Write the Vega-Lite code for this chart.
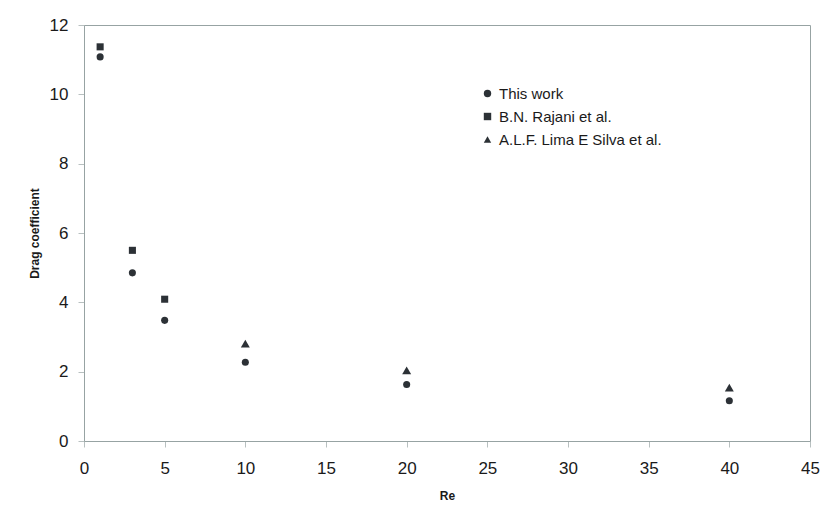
{
  "$schema": "https://vega.github.io/schema/vega-lite/v6.json",
  "width": 726,
  "height": 416,
  "autosize": "none",
  "padding": {"left": 84, "top": 25, "right": 15, "bottom": 76},
  "background": "white",
  "config": {
    "font": "Liberation Sans",
    "view": {"stroke": "#97a3a3", "strokeWidth": 1},
    "axis": {
      "grid": false,
      "domainColor": "#97a3a3",
      "tickColor": "#b8c0c0",
      "tickSize": 6,
      "labelFont": "Liberation Sans",
      "labelFontSize": 17,
      "labelColor": "#1a1a1a",
      "titleFont": "Liberation Sans",
      "titleFontSize": 12,
      "titleFontWeight": "bold",
      "titleColor": "#1a1a1a"
    }
  },
  "data": {
    "values": [
      {"Re": 1, "Cd": 11.08, "series": "This work"},
      {"Re": 3, "Cd": 4.85, "series": "This work"},
      {"Re": 5, "Cd": 3.48, "series": "This work"},
      {"Re": 10, "Cd": 2.27, "series": "This work"},
      {"Re": 20, "Cd": 1.63, "series": "This work"},
      {"Re": 40, "Cd": 1.16, "series": "This work"},
      {"Re": 1, "Cd": 11.37, "series": "B.N. Rajani et al."},
      {"Re": 3, "Cd": 5.5, "series": "B.N. Rajani et al."},
      {"Re": 5, "Cd": 4.09, "series": "B.N. Rajani et al."},
      {"Re": 10, "Cd": 2.81, "series": "A.L.F. Lima E Silva et al."},
      {"Re": 20, "Cd": 2.04, "series": "A.L.F. Lima E Silva et al."},
      {"Re": 40, "Cd": 1.54, "series": "A.L.F. Lima E Silva et al."}
    ]
  },
  "encoding": {
    "x": {
      "field": "Re", "type": "quantitative",
      "scale": {"domain": [0, 45], "nice": false},
      "axis": {"values": [0,5,10,15,20,25,30,35,40,45], "title": "Re", "labelPadding": 13, "titlePadding": 14, "labelFlush": false}
    },
    "y": {
      "field": "Cd", "type": "quantitative",
      "scale": {"domain": [0, 12], "nice": false},
      "axis": {"values": [0,2,4,6,8,10,12], "title": "Drag coefficient", "labelPadding": 10, "titlePadding": 8, "labelFlush": false}
    },
    "shape": {
      "field": "series", "type": "nominal",
      "scale": {
        "domain": ["This work", "B.N. Rajani et al.", "A.L.F. Lima E Silva et al."],
        "range": ["circle", "square", "triangle-up"]
      },
      "legend": {
        "title": null,
        "orient": "none",
        "legendX": 396,
        "legendY": 61,
        "labelFont": "Liberation Sans",
        "labelFontSize": 15,
        "labelLimit": 400,
        "labelColor": "#1a1a1a",
        "symbolFillColor": "#2c3136",
        "symbolStrokeColor": "#2c3136",
        "symbolSize": 55,
        "rowPadding": 7,
        "labelOffset": 4
      }
    }
  },
  "layer": [
    {
      "transform": [{"filter": "datum.series !== 'A.L.F. Lima E Silva et al.'"}],
      "mark": {"type": "point", "filled": true, "opacity": 1, "color": "#2c3136", "size": 50}
    },
    {
      "transform": [{"filter": "datum.series === 'A.L.F. Lima E Silva et al.'"}],
      "mark": {"type": "point", "filled": true, "opacity": 1, "color": "#2c3136", "size": 80}
    }
  ]
}
